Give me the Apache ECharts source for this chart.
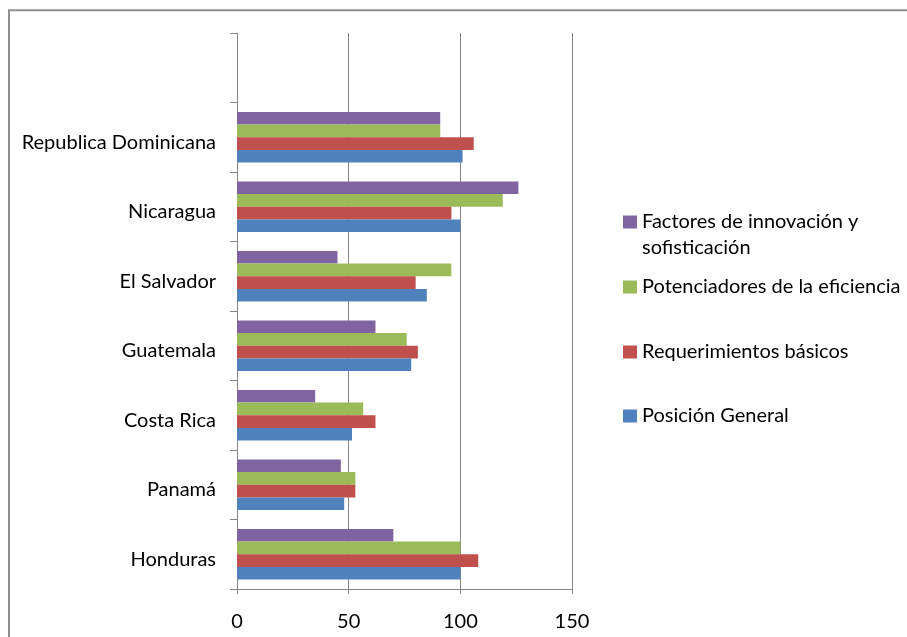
<!DOCTYPE html>
<html>
<head>
<meta charset="utf-8">
<script src="https://cdn.jsdelivr.net/npm/echarts@6/dist/echarts.min.js"></script>
<style>
html,body{margin:0;padding:0;background:#fff;}
#chart{width:907px;height:637px;}
</style>
</head>
<body>
<div id="chart"></div>
<script>
const categories = ['Honduras', 'Panamá', 'Costa Rica', 'Guatemala', 'El Salvador', 'Nicaragua', 'Republica Dominicana', ''];
const seriesNames = ['Posición General', 'Requerimientos básicos', 'Potenciadores de la eficiencia', 'Factores de innovación y sofisticación'];
const posicionGeneral = [100, 48, 51.5, 78, 85, 100, 101, null];
const requerimientosBasicos = [108, 53, 62, 81, 80, 96, 106, null];
const potenciadores = [100, 53, 56.5, 76, 96, 119, 91, null];
const innovacion = [70, 46.5, 35, 62, 45, 126, 91, null];
const xTicks = [0, 50, 100, 150];
const colors = ['#4F81BD', '#C0504D', '#9BBB59', '#8064A2'];

const FONT = 'Lato';
const FS = 20;
const chart = echarts.init(document.getElementById('chart'), null, {renderer: 'canvas'});

function legendAt(name, top, formatter) {
  const l = {
    data: [name],
    orient: 'vertical',
    left: 623,
    top: top,
    padding: 0,
    itemWidth: 14,
    itemHeight: 13,
    icon: 'rect',
    selectedMode: false,
    textStyle: {fontFamily: FONT, fontSize: FS, color: '#000', lineHeight: 26}
  };
  if (formatter) l.formatter = formatter;
  return l;
}

const dataSets = [posicionGeneral, requerimientosBasicos, potenciadores, innovacion];
// ECharts stacks horizontal bars top-down in series order, so add them in reverse
const order = [3, 2, 1, 0];

chart.setOption({
  animation: false,
  graphic: [{
    type: 'rect',
    shape: {x: 9, y: 10.3, width: 960, height: 700},
    style: {fill: 'none', stroke: '#8e8e8e', lineWidth: 2},
    silent: true
  }],
  grid: {left: 237, top: 33, right: 335, bottom: 48, containLabel: false},
  legend: [
    legendAt(seriesNames[3], 183, function () { return '\nFactores de innovación y\nsofisticación'; }),
    legendAt(seriesNames[2], 274),
    legendAt(seriesNames[1], 339),
    legendAt(seriesNames[0], 403)
  ],
  xAxis: {
    type: 'value',
    min: xTicks[0],
    max: xTicks[xTicks.length - 1],
    interval: 50,
    axisLine: {show: true, lineStyle: {color: '#868686', width: 1}},
    axisTick: {show: true, length: 5, lineStyle: {color: '#868686'}},
    splitLine: {show: true, lineStyle: {color: '#868686', width: 1}},
    axisLabel: {fontFamily: FONT, fontSize: FS, color: '#000', margin: 23}
  },
  yAxis: {
    type: 'category',
    data: categories,
    axisLine: {show: true, lineStyle: {color: '#868686', width: 1}},
    axisTick: {show: true, length: 7, inside: false, lineStyle: {color: '#868686'}},
    axisLabel: {fontFamily: FONT, fontSize: FS, color: '#000', margin: 21, verticalAlign: 'top', lineHeight: 10}
  },
  series: order.map(function (i) {
    return {
      name: seriesNames[i],
      type: 'bar',
      data: dataSets[i],
      barGap: '0%',
      barCategoryGap: '27%',
      itemStyle: {color: colors[i]}
    };
  })
});
</script>
</body>
</html>
